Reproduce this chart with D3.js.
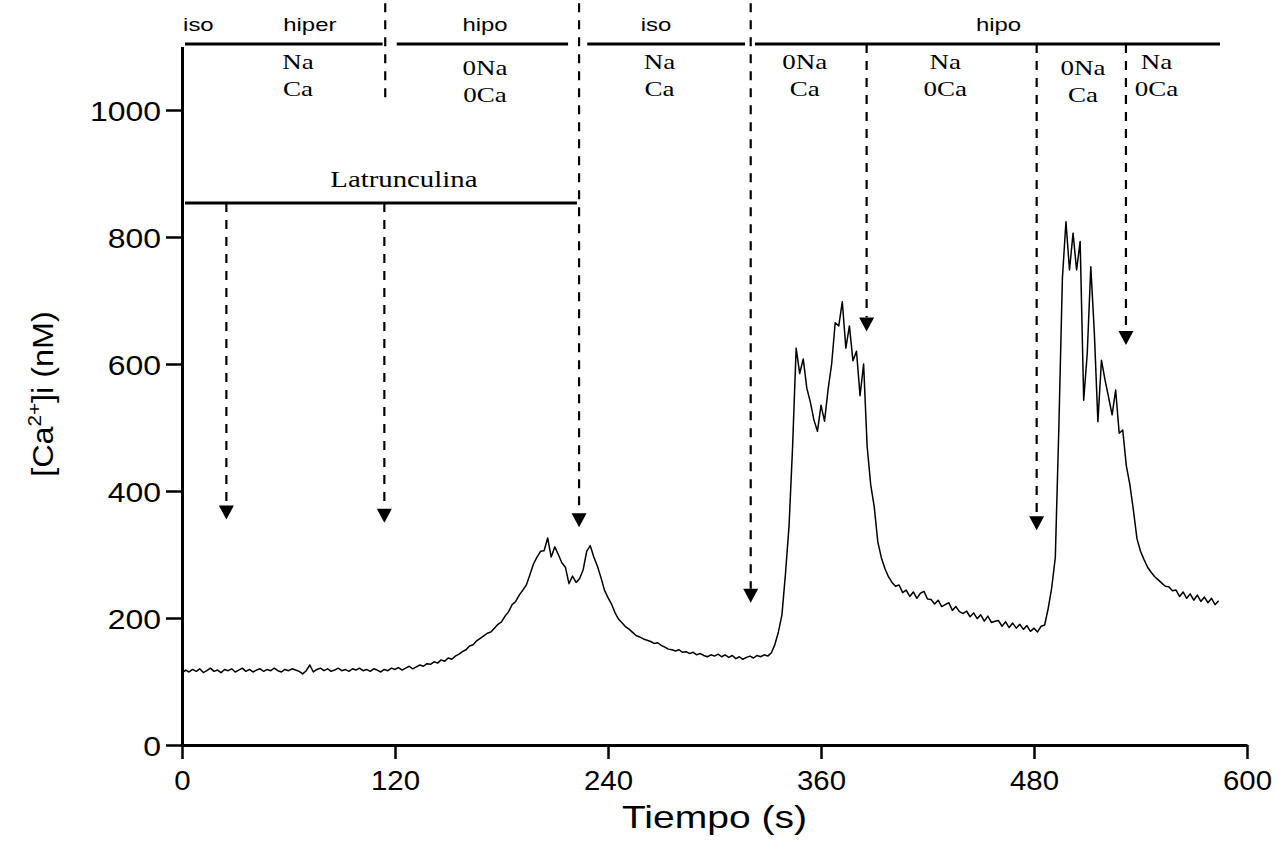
<!DOCTYPE html>
<html>
<head>
<meta charset="utf-8">
<script src="https://cdn.jsdelivr.net/npm/d3@7"></script>
<style>
body{margin:0;background:#fff;}
svg{display:block;}
</style>
</head>
<body>
<div id="chart"></div>
<script>
var width = 1287, height = 855;

// [Ca2+]i trace, one reading every 2 s starting at t = 0
var paso = 2;
var calcio = [
    113,118,115,119,116,120,114,117,121,116,
    118,114,119,117,120,115,118,121,116,119,
    115,118,120,116,119,117,121,117,115,119,
    117,120,118,116,112,117,126,115,119,121,
    117,120,116,118,121,117,119,116,120,118,
    121,117,119,116,120,118,115,119,117,121,
    119,122,118,121,124,120,123,126,124,128,
    127,131,129,134,132,137,135,140,143,147,
    150,156,158,164,168,172,176,178,184,190,
    194,203,210,221,226,236,244,252,268,285,
    296,305,306,326,296,312,300,287,280,254,
    266,256,262,276,305,314,296,282,264,244,
    232,222,208,198,192,186,182,177,172,170,
    167,165,163,160,161,157,154,151,150,148,
    150,146,147,144,146,142,144,141,139,142,
    140,143,139,142,138,141,136,139,135,138,
    140,137,141,139,142,140,145,158,178,205,
    270,345,470,625,585,608,562,540,512,494,
    535,510,560,600,665,660,698,625,660,605,
    620,550,600,470,410,375,320,295,278,265,
    256,250,252,240,244,234,241,231,239,242,
    230,229,222,228,218,221,224,212,218,210,
    207,211,202,208,199,205,195,203,193,195,
    196,187,194,185,192,184,190,182,188,179,
    184,178,187,189,215,248,295,500,735,824,
    748,806,748,793,543,617,753,649,509,606,
    575,548,520,559,491,496,440,410,370,325,
    305,292,280,272,265,260,255,250,249,243,
    244,234,241,231,238,228,236,226,233,224,
    231,221,227
];

var tiempoTicks = [0, 120, 240, 360, 480, 600];
var tiempoMenor = [60, 180, 300, 420, 540];
var calcioTicks = [0, 200, 400, 600, 800, 1000];
var calcioMenor = [100, 300, 500, 700, 900, 1100];

// solution periods (s) along the top
var barras = [[1.7, 113], [121, 217.5], [228.3, 317.2], [322.8, 584.8]];
var tonicidad = ['iso', 'hiper', 'hipo', 'iso', 'hipo'];
var tonicidadT = [0.6, 72, 170.7, 267, 460];
var solucionesT = [65.4, 170.7, 269, 350.8, 430, 507.6, 549];
var solucionArriba = ['Na', '0Na', 'Na', '0Na', 'Na', '0Na', 'Na'];
var solucionAbajo = ['Ca', '0Ca', 'Ca', 'Ca', '0Ca', 'Ca', '0Ca'];

// dashed arrows: time, start value, tip value
var flechasT = [25, 114, 223.7, 320.4, 385.7, 481.5, 531.8];
var flechasDesde = [853.5, 853.5, 1168, 1168, 1104, 1104, 1104];
var flechasHasta = [355, 350, 343, 224, 651, 338, 630];
var separador = [114.5, 1168, 1020];
var latrunculina = [1.7, 222.5, 853.5];

var svg = d3.select('#chart').append('svg')
    .attr('width', width)
    .attr('height', height);

var x = d3.scaleLinear().domain([0, 600]).range([182, 1247]);
var y = d3.scaleLinear().domain([0, 1100]).range([745, 46.5]);

// axes
var ejeX = svg.append('g').attr('transform', 'translate(0,' + y(0) + ')');
ejeX.call(d3.axisBottom(x).tickValues(tiempoMenor).tickSize(7).tickSizeOuter(0).tickFormat(''));
ejeX.call(d3.axisBottom(x).tickValues(tiempoTicks).tickSize(14).tickSizeOuter(0).tickFormat(d3.format('d')));

var ejeY = svg.append('g').attr('transform', 'translate(' + x(0) + ',0)');
ejeY.call(d3.axisLeft(y).tickValues(calcioMenor).tickSize(8.5).tickSizeOuter(0).tickFormat(''));
ejeY.call(d3.axisLeft(y).tickValues(calcioTicks).tickSize(16).tickSizeOuter(0).tickFormat(d3.format('d')));

svg.selectAll('.domain').attr('stroke', '#000').attr('stroke-width', 3);
svg.selectAll('.tick line').attr('stroke', '#000').attr('stroke-width', 2.5);

ejeX.selectAll('text')
    .attr('font-family', 'Liberation Sans, Arial, sans-serif')
    .attr('font-size', 28)
    .attr('fill', '#000')
    .attr('y', 45)
    .attr('dy', 0)
    .attr('transform', 'scale(1.05,1)');

ejeY.selectAll('text')
    .attr('font-family', 'Liberation Sans, Arial, sans-serif')
    .attr('font-size', 28)
    .attr('fill', '#000')
    .attr('x', -21 / 1.14)
    .attr('dy', '0.36em')
    .attr('transform', 'scale(1.14,1)');

// axis titles
svg.append('text')
    .attr('transform', 'translate(' + x(300) + ',828) scale(1.22,1)')
    .attr('text-anchor', 'middle')
    .attr('font-family', 'Liberation Sans, Arial, sans-serif')
    .attr('font-size', 32)
    .text('Tiempo (s)');

var tituloY = svg.append('text')
    .attr('transform', 'translate(53,394) rotate(-90) scale(1.08,1)')
    .attr('text-anchor', 'middle')
    .attr('font-family', 'Liberation Sans, Arial, sans-serif')
    .attr('font-size', 30);
tituloY.append('tspan').text('[Ca');
tituloY.append('tspan').attr('dy', -12).attr('font-size', 19).text('2+');
tituloY.append('tspan').attr('dy', 12).text(']i (nM)');

// trace
var linea = d3.line()
    .x(function(d, i){ return x(i * paso); })
    .y(function(d){ return y(d); });

svg.append('path')
    .datum(calcio)
    .attr('fill', 'none')
    .attr('stroke', '#000')
    .attr('stroke-width', 1.5)
    .attr('stroke-linejoin', 'round')
    .attr('d', linea);

// solution bars
svg.selectAll('.barra')
    .data(barras)
    .enter()
    .append('line')
    .attr('class', 'barra')
    .attr('x1', function(d){ return x(d[0]); })
    .attr('x2', function(d){ return x(d[1]); })
    .attr('y1', y(1104))
    .attr('y2', y(1104))
    .attr('stroke', '#000')
    .attr('stroke-width', 3);

svg.append('line')
    .attr('x1', x(latrunculina[0]))
    .attr('x2', x(latrunculina[1]))
    .attr('y1', y(latrunculina[2]))
    .attr('y2', y(latrunculina[2]))
    .attr('stroke', '#000')
    .attr('stroke-width', 3);

svg.append('text')
    .attr('transform', 'translate(' + x(125) + ',187) scale(1.2,1)')
    .attr('text-anchor', 'middle')
    .attr('font-family', 'Liberation Serif, Times New Roman, serif')
    .attr('font-size', 24)
    .text('Latrunculina');

tonicidad.forEach(function(txt, i){
    svg.append('text')
        .attr('transform', 'translate(' + x(tonicidadT[i]) + ',31) scale(1.33,1)')
        .attr('text-anchor', i === 0 ? 'start' : 'middle')
        .attr('font-family', 'Liberation Sans, Arial, sans-serif')
        .attr('font-size', 18)
        .text(txt);
});

var bajos = [1, 5];
solucionesT.forEach(function(t, i){
    var base = bajos.indexOf(i) >= 0 ? 75 : 69;
    [solucionArriba[i], solucionAbajo[i]].forEach(function(txt, j){
        svg.append('text')
            .attr('transform', 'translate(' + x(t) + ',' + (base + j * 27) + ') scale(1.35,1)')
            .attr('text-anchor', 'middle')
            .attr('font-family', 'Liberation Serif, Times New Roman, serif')
            .attr('font-size', 20)
            .text(txt);
    });
});

// dashed separators and arrows
var punta = 14, ancho = 15;

svg.append('line')
    .attr('x1', x(separador[0]))
    .attr('x2', x(separador[0]))
    .attr('y1', y(separador[1]))
    .attr('y2', y(separador[2]))
    .attr('stroke', '#000')
    .attr('stroke-width', 2.2)
    .attr('stroke-dasharray', '9,8');

flechasT.forEach(function(t, i){
    var xp = x(t), tip = y(flechasHasta[i]);
    svg.append('line')
        .attr('x1', xp)
        .attr('x2', xp)
        .attr('y1', y(flechasDesde[i]))
        .attr('y2', tip - punta)
        .attr('stroke', '#000')
        .attr('stroke-width', 2.2)
        .attr('stroke-dasharray', '9,8');
    svg.append('path')
        .attr('d', 'M' + (xp - ancho / 2) + ',' + (tip - punta) + 'L' + (xp + ancho / 2) + ',' + (tip - punta) + 'L' + xp + ',' + tip + 'Z')
        .attr('fill', '#000');
});
</script>
</body>
</html>
